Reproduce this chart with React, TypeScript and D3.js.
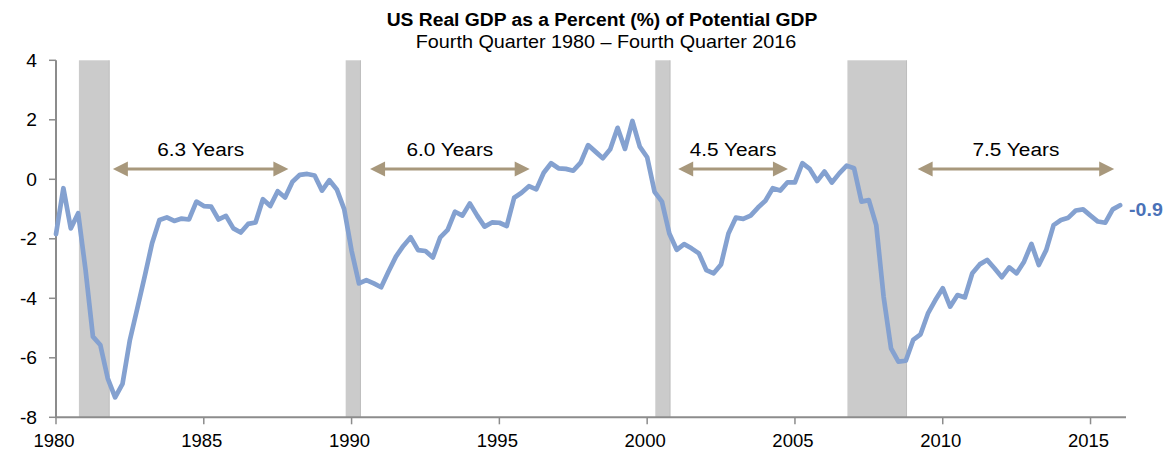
import React from "react";
import * as d3 from "d3";

// Quarterly values, Q4 1980 .. Q4 2016 (real GDP as % gap to potential)
const gdpGap: number[] = [
  -1.84, -0.3, -1.65, -1.14, -3.05, -5.29, -5.57, -6.69, -7.33, -6.88,
  -5.4, -4.34, -3.27, -2.15, -1.37, -1.28, -1.4, -1.32, -1.35, -0.75,
  -0.9, -0.92, -1.35, -1.23, -1.65, -1.79, -1.5, -1.45, -0.67, -0.9,
  -0.4, -0.61, -0.08, 0.15, 0.18, 0.13, -0.38, -0.03, -0.34, -1.0,
  -2.4, -3.5, -3.39, -3.5, -3.63, -3.1, -2.6, -2.24, -1.95, -2.38,
  -2.41, -2.63, -1.95, -1.7, -1.09, -1.22, -0.81, -1.22, -1.59, -1.45,
  -1.46, -1.57, -0.62, -0.45, -0.23, -0.34, 0.22, 0.54, 0.37, 0.35,
  0.29, 0.56, 1.15, 0.93, 0.71, 1.01, 1.73, 1.02, 1.96, 1.1,
  0.74, -0.42, -0.75, -1.82, -2.37, -2.18, -2.32, -2.49, -3.05, -3.16,
  -2.86, -1.82, -1.29, -1.33, -1.22, -0.95, -0.72, -0.3, -0.38, -0.1,
  -0.1, 0.54, 0.35, -0.06, 0.26, -0.11, 0.2, 0.46, 0.37, -0.75,
  -0.7, -1.54, -3.95, -5.68, -6.13, -6.1, -5.4, -5.21, -4.51, -4.06,
  -3.66, -4.28, -3.89, -3.97, -3.16, -2.86, -2.71, -2.99, -3.29, -2.96,
  -3.16, -2.77, -2.17, -2.88, -2.38, -1.54, -1.37, -1.29, -1.05, -1.01,
  -1.22, -1.42, -1.46, -1.01, -0.87,
];

const tickYears: number[] = [1980, 1985, 1990, 1995, 2000, 2005, 2010, 2015];
const yTicks: number[] = [4, 2, 0, -2, -4, -6, -8];

// recession shading, in quarter index from the first observation
const recessionStart: number[] = [3.1, 39.2, 81.1, 107.1];
const recessionEnd: number[] = [7.2, 41.2, 83.1, 115.1];

// expansion arrows
const expansionLabels: string[] = ["6.3 Years", "6.0 Years", "4.5 Years", "7.5 Years"];
const arrowStart: number[] = [7.7, 42.5, 84.2, 116.6];
const arrowEnd: number[] = [31.45, 64.1, 99.05, 143.2];
const arrowLevel = 0.35;

const lastLabel = "-0.9";
const title = "US Real GDP as a Percent (%) of Potential GDP";
const subtitle = "Fourth Quarter 1980 \u2013 Fourth Quarter 2016";

const W = 1170;
const H = 454;
const FONT = "'Liberation Sans', Arial, sans-serif";
const SX = 1.12;

const x = d3.scaleLinear().domain([0, 144.8]).range([56, 1126]);
const y = d3.scaleLinear().domain([-8, 4]).range([417.3, 60.3]);

const lineGen = d3
  .line<number>()
  .x((_, i) => x(i))
  .y((d) => y(d));

function SText(props: {
  x: number;
  y: number;
  size: number;
  anchor?: string;
  weight?: string | number;
  fill?: string;
  sx?: number;
  children: React.ReactNode;
}) {
  const { x: tx, y: ty, size, anchor = "start", weight = "normal", fill = "#000", sx = SX } = props;
  return (
    <text
      transform={`translate(${tx},${ty}) scale(${sx},1)`}
      textAnchor={anchor as any}
      fontFamily={FONT}
      fontSize={size}
      fontWeight={weight as any}
      fill={fill}
    >
      {props.children}
    </text>
  );
}

export default function App() {
  const axisColor = "#8c8c8c";
  const arrowColor = "#a8987c";
  const headLen = 15;
  const headHalf = 7.5;
  const ay = y(arrowLevel);
  const lastI = gdpGap.length - 1;

  return (
    <svg
      width={W}
      height={H}
      style={{ position: "absolute", left: 0, top: 0, background: "#fff" }}
    >
      <rect x={0} y={0} width={W} height={H} fill="#fff" />
      {/* titles */}
      <SText x={602} y={26} size={18} anchor="middle" weight="bold" sx={1.07}>
        {title}
      </SText>
      <SText x={606} y={47.5} size={18} anchor="middle" sx={1.1}>
        {subtitle}
      </SText>

      {/* recession bands */}
      {recessionStart.map((s, k) => (
        <g key={"r" + k}>
          <rect
            x={x(s)}
            y={y(4)}
            width={x(recessionEnd[k]) - x(s)}
            height={y(-8) - y(4)}
            fill="#cbcbcb"
          />
          <line
            x1={x(recessionEnd[k])}
            x2={x(recessionEnd[k])}
            y1={y(4)}
            y2={y(-8)}
            stroke="#bdbdbd"
            strokeWidth={1}
          />
        </g>
      ))}

      {/* y axis */}
      <line x1={x(0)} x2={x(0)} y1={y(4)} y2={y(-8)} stroke={axisColor} strokeWidth={2} />
      {yTicks.map((t) => (
        <g key={"yt" + t}>
          <line x1={x(0) - 7} x2={x(0)} y1={y(t)} y2={y(t)} stroke={axisColor} strokeWidth={1.5} />
          <SText x={37} y={y(t) + 6.3} size={17.8} anchor="end" sx={1.08}>
            {String(t)}
          </SText>
        </g>
      ))}

      {/* x axis */}
      <line x1={x(0) - 1} x2={x.range()[1]} y1={y(-8)} y2={y(-8)} stroke={axisColor} strokeWidth={2} />
      {tickYears.map((yr) => {
        const q = (yr - tickYears[0]) * 4;
        return (
          <g key={"xt" + yr}>
            <line x1={x(q)} x2={x(q)} y1={y(-8)} y2={y(-8) + 7} stroke={axisColor} strokeWidth={1.5} />
            <SText x={x(q) - 2} y={447} size={18.5} anchor="middle" sx={1.0}>
              {String(yr)}
            </SText>
          </g>
        );
      })}

      {/* arrows */}
      {arrowStart.map((s, k) => {
        const x1 = x(s);
        const x2 = x(arrowEnd[k]);
        return (
          <g key={"a" + k}>
            <line x1={x1 + headLen - 2} x2={x2 - headLen + 2} y1={ay} y2={ay} stroke={arrowColor} strokeWidth={3} />
            <path
              d={`M${x1},${ay} L${x1 + headLen},${ay - headHalf} L${x1 + headLen},${ay + headHalf} Z`}
              fill={arrowColor}
            />
            <path
              d={`M${x2},${ay} L${x2 - headLen},${ay - headHalf} L${x2 - headLen},${ay + headHalf} Z`}
              fill={arrowColor}
            />
            <SText x={(x1 + x2) / 2} y={ay - 12.5} size={18.6} anchor="middle">
              {expansionLabels[k]}
            </SText>
          </g>
        );
      })}

      {/* series line */}
      <path
        d={lineGen(gdpGap) || ""}
        fill="none"
        stroke="#84a1d0"
        strokeWidth={4.7}
        strokeLinejoin="round"
        strokeLinecap="round"
      />

      {/* last value label */}
      <SText x={x(lastI) + 9} y={y(gdpGap[lastI]) + 10.5} size={17.5} weight="bold" fill="#4a72b8">
        {lastLabel}
      </SText>
    </svg>
  );
}
